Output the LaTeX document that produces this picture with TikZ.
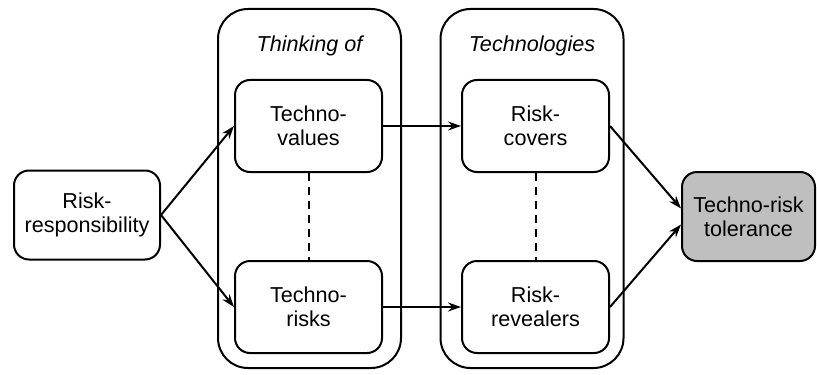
\documentclass[tikz,border=0pt]{standalone}
\usepackage{fontspec}
\setmainfont{Liberation Sans}
\usetikzlibrary{arrows.meta}

\begin{document}
\begin{tikzpicture}[x=0.5pt,y=-0.5pt]
            \tikzset{stage/.style = {shape=rectangle, draw, rounded corners=7.5pt, line width=1pt, minimum width=73.5pt, minimum height=46pt, align=center, font=\fontsize{10.8}{11.8}\selectfont}}
            \tikzset{group/.style = {shape=rectangle, draw, rounded corners=15pt, line width=1pt, minimum width=91.5pt, minimum height=179.5pt}}
            \tikzset{flow/.style = {draw, line width=1pt, -{Stealth[length=6.5pt,width=4.5pt]}}}
            \tikzset{link/.style = {draw, line width=1pt, dash pattern=on 4pt off 3pt}}
            \useasboundingbox (0,0) rectangle (817,374);
            % groups
            \node[group] (thinking) at (309.5,188.5) {};
            \node[group] (techs) at (532,188.5) {};
            \node[font=\fontsize{10.8}{12}\itshape] at (309.5,46) {Thinking of};
            \node[font=\fontsize{10.8}{12}\itshape] at (532,46) {Technologies};
            % vertices
            \node[stage,minimum width=73pt,minimum height=44.5pt] (resp) at (87,215) {Risk-\\responsibility};
            \node[stage] (values) at (308.5,126) {Techno-\\values};
            \node[stage] (risks) at (308.5,307) {Techno-\\risks};
            \node[stage] (covers) at (535.5,126) {Risk-\\covers};
            \node[stage] (revealers) at (535.5,307) {Risk-\\revealers};
            \node[stage,fill=black!25,minimum width=66.5pt,minimum height=44.5pt] (tolerance) at (748.5,216.5) {Techno-risk\\tolerance};
            % edges
            \draw[flow] (resp.east) to (values.west);
            \draw[flow] (resp.east) to (risks.west);
            \draw[flow] (values.east) to (covers.west);
            \draw[flow] (risks.east) to (revealers.west);
            \draw[flow] (covers.east) to ([yshift=4pt]tolerance.west);
            \draw[flow] (revealers.east) to ([yshift=-4pt]tolerance.west);
            \draw[link] (values) to (risks);
            \draw[link] (covers) to (revealers);
        \end{tikzpicture}
\end{document}
